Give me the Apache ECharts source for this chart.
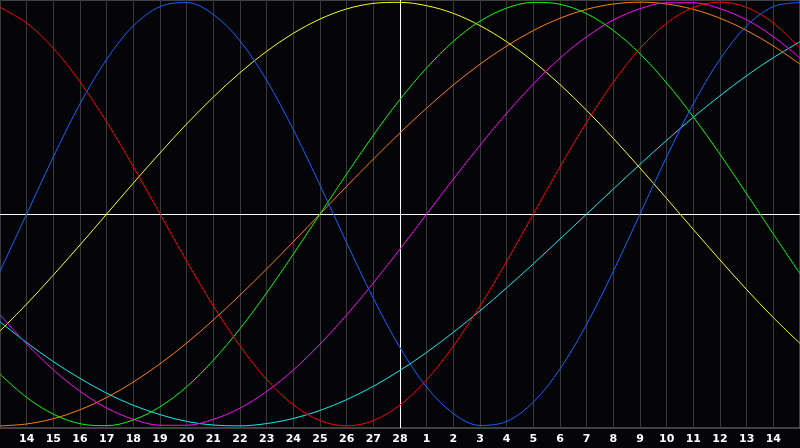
<!DOCTYPE html>
<html>
<head>
<meta charset="utf-8">
<script src="https://cdn.jsdelivr.net/npm/echarts@6/dist/echarts.min.js"></script>
<style>
html,body{margin:0;padding:0;background:#050408;}
#c{width:800px;height:448px;}
</style>
</head>
<body>
<div id="c"></div>
<script>
const days = ['13','14','15','16','17','18','19','20','21','22','23','24','25','26','27','28',
              '1','2','3','4','5','6','7','8','9','10','11','12','13','14','15'];

const physical = [-27.0,0,27.0,52.0,73.1,88.8,97.9,99.8,94.2,81.7,63.1,39.8,13.6,-13.6,-39.8,-63.1,
  -81.7,-94.2,-99.8,-97.9,-88.8,-73.1,-52.0,-27.0,0,27.0,52.0,73.1,88.8,97.9,99.8];
const emotional = [97.5,90.1,78.2,62.3,43.4,22.3,0,-22.3,-43.4,-62.3,-78.2,-90.1,-97.5,-100,-97.5,-90.1,
  -78.2,-62.3,-43.4,-22.3,0,22.3,43.4,62.3,78.2,90.1,97.5,100,97.5,90.1,78.2];
const intellectual = [-75.6,-86.6,-94.5,-99.0,-99.9,-97.2,-91.0,-81.5,-69.0,-54.1,-37.2,-18.9,0,18.9,37.2,54.1,
  69.0,81.5,91.0,97.2,99.9,99.0,94.5,86.6,75.6,61.8,45.8,28.2,9.5,-9.5,-28.2];
const intuitive = [-47.6,-61.4,-73.6,-83.7,-91.6,-96.9,-99.7,-99.7,-96.9,-91.6,-83.7,-73.6,-61.4,-47.6,-32.5,-16.5,
  0,16.5,32.5,47.6,61.4,73.6,83.7,91.6,96.9,99.7,99.7,96.9,91.6,83.7,73.6];
const aesthetic = [-55.2,-42.5,-28.8,-14.6,0,14.6,28.8,42.5,55.2,66.7,76.8,85.3,92.0,96.8,99.4,99.9,
  98.3,94.7,88.9,81.3,72.0,61.1,48.9,35.7,21.7,7.3,-7.3,-21.7,-35.7,-48.9,-61.1];
const awareness = [-100,-99.1,-96.6,-92.4,-86.6,-79.3,-70.7,-60.9,-50.0,-38.3,-25.9,-13.1,0,13.1,25.9,38.3,
  50.0,60.9,70.7,79.3,86.6,92.4,96.6,99.1,100,99.1,96.6,92.4,86.6,79.3,70.7];
const spiritual = [-50.9,-60.7,-69.7,-77.6,-84.6,-90.3,-94.7,-97.9,-99.6,-100.0,-98.9,-96.5,-92.7,-87.6,-81.3,-73.8,
  -65.3,-55.8,-45.7,-34.8,-23.5,-11.8,0,11.8,23.5,34.8,45.7,55.8,65.3,73.8,81.3];

const seriesList = [
  {name:'Spiritual', data: spiritual, color:'#00f0f0'},
  {name:'Awareness', data: awareness, color:'#ff8000'},
  {name:'Aesthetic', data: aesthetic, color:'#ffff00'},
  {name:'Intuitive', data: intuitive, color:'#ff00ff'},
  {name:'Intellectual', data: intellectual, color:'#00ff00'},
  {name:'Emotional', data: emotional, color:'#ff0000'},
  {name:'Physical', data: physical, color:'#1064ff'}
];

const chart = echarts.init(document.getElementById('c'));
chart.setOption({
  backgroundColor: '#050408',
  animation: false,
  grid: {left: 0, right: -1, top: 0, bottom: 20, show: true, borderColor: '#808080', borderWidth: 1, backgroundColor: 'transparent'},
  xAxis: {
    type: 'category',
    data: days,
    boundaryGap: false,
    axisLine: {show: true, lineStyle: {color: '#808080', width: 1}},
    axisTick: {show: false},
    axisLabel: {
      interval: function (index) { return index > 0 && index < days.length - 1; },
      color: '#ffffff', fontWeight: 'bold', fontSize: 11, fontFamily: 'DejaVu Sans', margin: 6
    },
    splitLine: {show: true, interval: 0, lineStyle: {color: '#3a3a3a', width: 1}}
  },
  yAxis: {
    type: 'value', min: -101, max: 101,
    axisLine: {show: false}, axisTick: {show: false}, axisLabel: {show: false},
    splitLine: {show: false}
  },
  series: seriesList.map(function (s, idx) {
    const o = {
      name: s.name, type: 'line', data: s.data, smooth: 0.34, symbol: 'none',
      lineStyle: {color: s.color, width: 1}, itemStyle: {color: s.color}, z: 3
    };
    if (idx === 0) {
      o.markLine = {
        silent: true, symbol: 'none', label: {show: false}, z: 2,
        lineStyle: {color: '#ffffff', width: 1, type: 'solid'},
        data: [{xAxis: 15}, {yAxis: 0}]
      };
    }
    return o;
  })
});
</script>
</body>
</html>
